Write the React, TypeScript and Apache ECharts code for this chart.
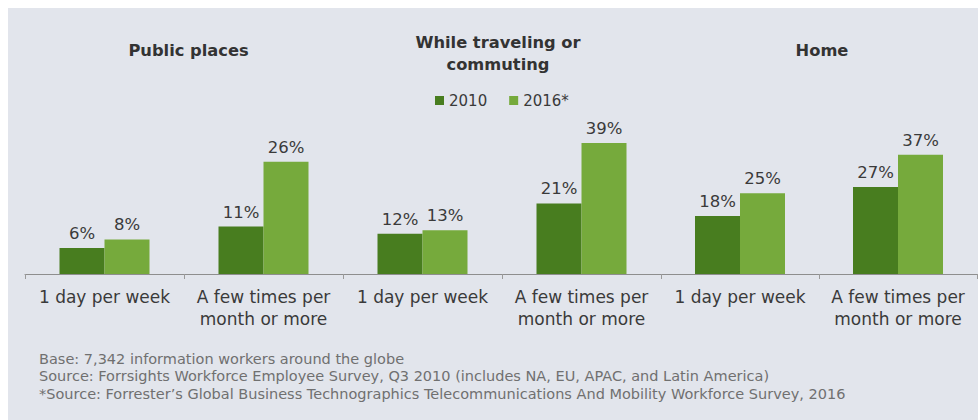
import React, { useEffect, useRef } from "react";
import * as echarts from "echarts";

const groupTitles = ["Public places", "While traveling or\ncommuting", "Home"];
const categories = ["1 day per week", "A few times per\nmonth or more"];
const seriesNames = ["2010", "2016*"];
const values2010 = [6, 11, 12, 21, 18, 27];
const values2016 = [8, 26, 13, 39, 25, 37];
const groupMax = [41.5, 53.3, 55.5];
const footnotes = [
  "Base: 7,342 information workers around the globe",
  "Source: Forrsights Workforce Employee Survey, Q3 2010 (includes NA, EU, APAC, and Latin America)",
  "*Source: Forrester\u2019s Global Business Technographics Telecommunications And Mobility Workforce Survey, 2016",
];

const FONT = '"DejaVu Sans", "Liberation Sans", Arial, sans-serif';
const DARK = "#487d1f";
const LIGHT = "#76aa3c";
const TEXT = "#3a3a3a";

const gridLefts = [17, 335, 653];
const gridWidths = [318, 318, 316];
const titleX = [180.5, 490, 814];
const titleY = [42, 45.3, 42];

export default function App() {
  const ref = useRef<HTMLDivElement>(null);
  useEffect(() => {
    const chart = echarts.init(ref.current!, null, { renderer: "svg" });
    const grids = gridLefts.map((l, i) => ({
      left: l,
      width: gridWidths[i],
      top: 87,
      bottom: 146,
      containLabel: false,
    }));
    const xAxes = grids.map((_, i) => ({
      type: "category",
      gridIndex: i,
      data: categories,
      axisLine: { show: true, lineStyle: { color: "#8e8e8e", width: 1 } },
      axisTick: { show: true, length: 5, lineStyle: { color: "#9a9a9a" } },
      axisLabel: {
        interval: 0,
        margin: 12,
        color: TEXT,
        fontFamily: FONT,
        fontSize: 17,
        lineHeight: 22,
        align: "center",
      },
    }));
    const yAxes = grids.map((_, i) => ({
      type: "value",
      gridIndex: i,
      min: 0,
      max: groupMax[i],
      show: false,
      splitLine: { show: false },
    }));
    const series: any[] = [];
    grids.forEach((_, i) => {
      [values2010, values2016].forEach((vals, s) => {
        series.push({
          type: "bar",
          name: seriesNames[s],
          xAxisIndex: i,
          yAxisIndex: i,
          data: vals.slice(i * 2, i * 2 + 2),
          barWidth: 45,
          barGap: "0%",
          itemStyle: { color: s === 0 ? DARK : LIGHT },
          label: {
            show: true,
            position: "top",
            distance: 6,
            formatter: "{c}%",
            color: TEXT,
            fontFamily: FONT,
            fontSize: 16.5,
          },
        });
      });
    });
    const graphics: any[] = [];
    groupTitles.forEach((t, i) => {
      graphics.push({
        type: "text",
        x: titleX[i],
        y: titleY[i],
        style: {
          text: t,
          fill: "#333333",
          fontFamily: FONT,
          fontWeight: "bold",
          fontSize: 16.3,
          lineHeight: 21.5,
          align: "center",
          verticalAlign: "middle",
        },
      });
    });
    footnotes.forEach((t, i) => {
      graphics.push({
        type: "text",
        x: 31,
        y: [350.5, 367.5, 385.5][i],
        style: {
          text: t,
          fill: "#707070",
          fontFamily: FONT,
          fontSize: 14.5,
          align: "left",
          verticalAlign: "middle",
        },
      });
    });
    chart.setOption({
      animation: false,
      backgroundColor: "#e2e5ec",
      legend: {
        left: 422,
        top: 80,
        itemWidth: 9,
        itemHeight: 9,
        itemGap: 22,
        icon: "rect",
        data: seriesNames.map((n, s) => ({ name: n, itemStyle: { color: s === 0 ? DARK : LIGHT } })),
        textStyle: { color: TEXT, fontFamily: FONT, fontSize: 15 },
      },
      grid: grids,
      xAxis: xAxes,
      yAxis: yAxes,
      series,
      graphic: graphics,
    });
    return () => chart.dispose();
  }, []);
  return (
    <div
      ref={ref}
      style={{
        position: "fixed",
        left: 8,
        top: 8,
        width: 970,
        height: 412,
        background: "#e2e5ec",
      }}
    />
  );
}
